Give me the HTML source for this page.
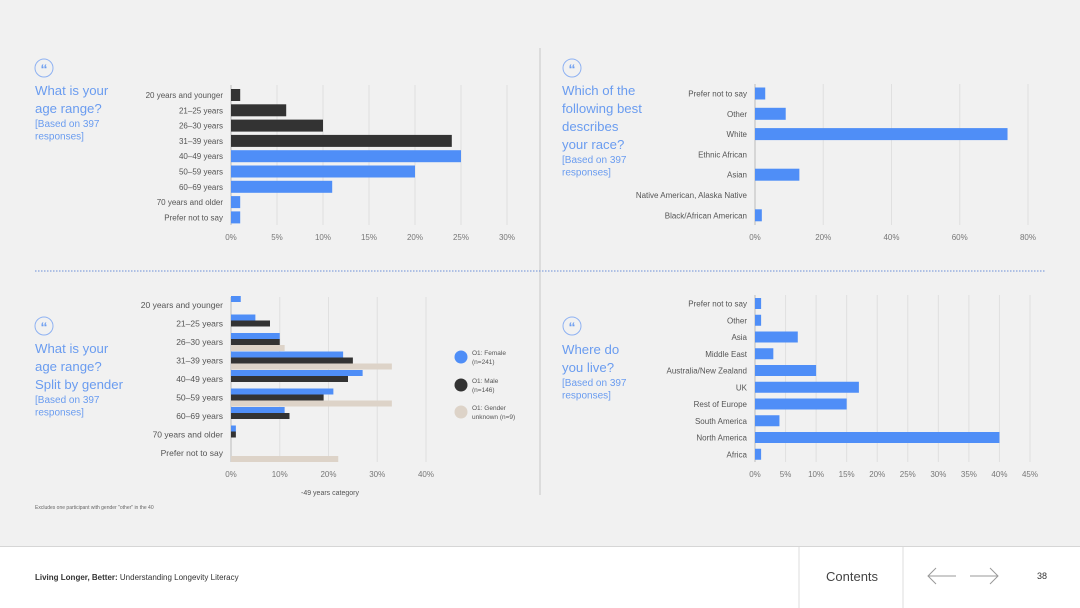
<!DOCTYPE html>
<html><head><meta charset="utf-8">
<style>
body{margin:0;width:1080px;height:608px;overflow:hidden;background:#f1f1f1;font-family:"Liberation Sans",sans-serif;}
svg{display:block}
text{font-family:"Liberation Sans",sans-serif;}
</style></head>
<body>
<svg id="s" width="1080" height="608">
<rect x="0" y="0" width="1080" height="546" fill="#f1f1f1"/>
<line x1="540" y1="48" x2="540" y2="495" stroke="#c8c8c8"/>
<line x1="35" y1="271" x2="1045" y2="271" stroke="#6a8fd8" stroke-dasharray="1.5,1.5"/>
<g>
<rect x="0" y="546" width="1080" height="62" fill="#fff"/>
<line x1="0" y1="546.5" x2="1080" y2="546.5" stroke="#d6d6d6"/>
<line x1="799" y1="547" x2="799" y2="608" stroke="#ddd"/>
<line x1="903" y1="547" x2="903" y2="608" stroke="#ddd"/>
<text x="35" y="580" font-size="8" fill="#333"><tspan font-weight="bold">Living Longer, Better:</tspan> Understanding Longevity Literacy</text>
<text x="826" y="581" font-size="13" fill="#444">Contents</text>
<g stroke="#999" fill="none" stroke-width="1"><line x1="928" y1="576" x2="956" y2="576"/><polyline points="936,568 928,576 936,584"/></g>
<g stroke="#999" fill="none" stroke-width="1"><line x1="970" y1="576" x2="998" y2="576"/><polyline points="990,568 998,576 990,584"/></g>
<text x="1037" y="579" font-size="9" fill="#333">38</text>
</g>
<text x="35" y="509" font-size="5" fill="#666">Excludes one participant with gender "other" in the 40</text>
<text x="330" y="495" font-size="7" fill="#555" text-anchor="middle">-49 years category</text>
</svg>
<script>
// ---- Data ----
const ageCats = ["20 years and younger","21–25 years","26–30 years","31–39 years","40–49 years","50–59 years","60–69 years","70 years and older","Prefer not to say"];
const ageVals = [1,6,10,24,25,20,11,1,1];
const ageTicks = [0,5,10,15,20,25,30];
const raceCats = ["Prefer not to say","Other","White","Ethnic African","Asian","Native American, Alaska Native","Black/African American"];
const raceVals = [3,9,74,0,13,0,2];
const raceTicks = [0,20,40,60,80];
const genderCats = ["20 years and younger","21–25 years","26–30 years","31–39 years","40–49 years","50–59 years","60–69 years","70 years and older","Prefer not to say"];
const femaleVals = [2,5,10,23,27,21,11,1,0];
const maleVals = [0,8,10,25,24,19,12,1,0];
const unknownVals = [0,0,11,33,0,33,0,0,22];
const genderTicks = [0,10,20,30,40];
const liveCats = ["Prefer not to say","Other","Asia","Middle East","Australia/New Zealand","UK","Rest of Europe","South America","North America","Africa"];
const liveVals = [1,1,7,3,10,17,15,4,40,1];
const liveTicks = [0,5,10,15,20,25,30,35,40,45];

const NS="http://www.w3.org/2000/svg";
const svg=document.getElementById('s');
const BLUE="#4f8ef7",DARK="#333333",BEIGE="#ddd3c8",TITLE="#6a9cf0";
function el(tag,attrs,parent){const e=document.createElementNS(NS,tag);for(const k in attrs)e.setAttribute(k,attrs[k]);(parent||svg).appendChild(e);return e;}

function quote(cx,cy){
  const g=el('g',{});
  
  
  el('circle',{cx:cx,cy:cy,r:9,fill:'none',stroke:'#8fb2f2','stroke-width':1},g);
  const t=el('text',{x:cx,y:cy+6,'font-size':14,'font-weight':'bold',fill:TITLE,'text-anchor':'middle'},g);t.textContent='“';
}
function title(x,y,big,small){
  const g=el('g',{});
  
  
  let yy=y;
  big.forEach(l=>{const t=el('text',{x:x,y:yy,'font-size':13.2,fill:TITLE},g);t.textContent=l;yy+=18;});
  yy-=4;
  small.forEach(l=>{const t=el('text',{x:x,y:yy,'font-size':10,fill:TITLE},g);t.textContent=l;yy+=12.5;});
}

function chart(o){
  const g=el('g',{});
  
  
  const max=o.ticks[o.ticks.length-1];
  const xs=v=>o.x0+(v/max)*(o.x1-o.x0);
  const ys=i=>o.yFirst+i*o.step;
  o.ticks.forEach(t=>{
    if(t>0){const l=el('line',{x1:xs(t),x2:xs(t),y1:o.top,y2:o.bottom,stroke:'#e0e0e0'},g);
    
    }
    const tx=el('text',{x:xs(t),y:o.tickY,'font-size':8,fill:'#777','text-anchor':'middle'},g);
    
    
    tx.textContent=t+'%';
  });
  const ax=el('line',{x1:o.x0,x2:o.x0,y1:o.top,y2:o.bottom,stroke:'#bbb'},g);
  
  
  o.cats.forEach((c,i)=>{
    const t=el('text',{x:o.x0-8,y:ys(i)+3,'font-size':o.fs||8,fill:'#555','text-anchor':'end'},g);
    
    
    t.textContent=c;
    o.series.forEach(s=>{
      const v=s.vals[i]; if(!v) return;
      const col=typeof s.color==='function'?s.color(i):s.color;
      const r=el('rect',{x:o.x0,y:ys(i)+s.off,width:xs(v)-o.x0,height:s.h,fill:col},g);
      
      
    });
  });
}

quote(44,68);
title(35,95,["What is your","age range?"],["[Based on 397","responses]"]);
chart({name:'age-range-chart',cats:ageCats,ticks:ageTicks,x0:231,x1:507,yFirst:95,step:15.3,top:85,bottom:225,tickY:240,
  series:[{vals:ageVals,off:-6,h:12,color:i=>i<4?DARK:BLUE}]});

quote(572,68);
title(562,95,["Which of the","following best","describes","your race?"],["[Based on 397","responses]"]);
chart({name:'race-chart',cats:raceCats,ticks:raceTicks,x0:755,x1:1028,yFirst:93.5,step:20.3,top:84,bottom:225,tickY:240,
  series:[{vals:raceVals,off:-6,h:12,color:BLUE}]});

quote(44,326);
title(35,353,["What is your","age range?","Split by gender"],["[Based on 397","responses]"]);
chart({name:'age-by-gender-chart',cats:genderCats,ticks:genderTicks,x0:231,x1:426,yFirst:305,step:18.5,top:297,bottom:462,tickY:477,fs:8.5,
  series:[{vals:femaleVals,off:-9,h:6,color:BLUE},{vals:maleVals,off:-3,h:6,color:DARK},{vals:unknownVals,off:3,h:6,color:BEIGE}]});

const legend=[["O1: Female","(n=241)",BLUE,357],["O1: Male","(n=146)",DARK,385],["O1: Gender","unknown (n=9)",BEIGE,412]];
legend.forEach(l=>{
  const g=el('g',{});
  
  
  el('circle',{cx:461,cy:l[3],r:6.5,fill:l[2]},g);
  const a=el('text',{x:472,y:l[3]-2,'font-size':6.5,fill:'#555'},g);a.textContent=l[0];
  const b=el('text',{x:472,y:l[3]+7,'font-size':6.5,fill:'#555'},g);b.textContent=l[1];
});

quote(572,326);
title(562,354,["Where do","you live?"],["[Based on 397","responses]"]);
chart({name:'location-chart',cats:liveCats,ticks:liveTicks,x0:755,x1:1030,yFirst:303.5,step:16.75,top:295,bottom:462,tickY:477,
  series:[{vals:liveVals,off:-5.5,h:11,color:BLUE}]});
</script>
</body></html>
